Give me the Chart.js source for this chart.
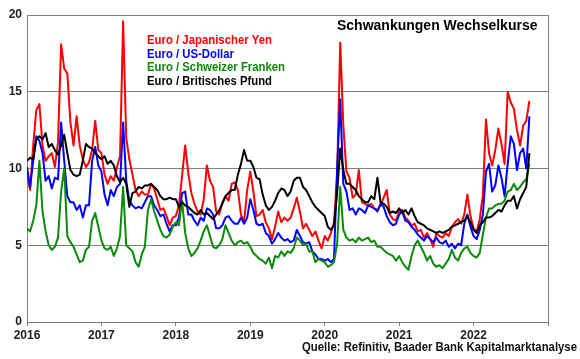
<!DOCTYPE html>
<html><head><meta charset="utf-8">
<script src="https://cdn.jsdelivr.net/npm/chart.js@4/dist/chart.umd.min.js"></script>
<style>html,body{margin:0;padding:0;background:#fff;overflow:hidden}#wrap{width:580px;height:359px}</style>
</head><body><div id="wrap"><canvas id="c" width="580" height="359"></canvas></div>
<script>
const startYear = 2016;
const pointsPerYear = 24; // semi-monthly readings
const yearLabels = ['2016','2017','2018','2019','2020','2021','2022'];
const seriesNames = ['Euro / Japanischer Yen','Euro / US-Dollar','Euro / Schweizer Franken','Euro / Britisches Pfund'];
const chartTitle = 'Schwankungen Wechselkurse';
const sourceNote = 'Quelle: Refinitiv, Baader Bank Kapitalmarktanalyse';

const jpy = [
 9.5,8.6,11.5,13.8,14.2,11.5,10.5,10.8,11.0,10.1,11.7,18.1,16.5,16.2,13.0,11.5,13.4,11.5,10.6,10.1,10.4,11.2,13.1,11.2,
 11.0,9.6,9.0,9.5,9.2,10.1,10.8,19.6,12.0,10.6,9.6,8.6,8.2,8.5,8.3,8.3,9.0,8.7,8.0,7.3,7.4,6.9,6.3,6.8,
 6.9,7.6,9.5,11.5,9.7,8.4,7.7,7.2,7.0,8.0,10.2,9.2,8.8,7.2,7.0,7.8,8.2,7.9,9.0,9.1,8.6,7.0,6.5,8.6,
 9.8,8.5,6.9,7.0,7.3,6.5,6.1,5.4,6.2,7.2,6.5,6.8,6.6,6.8,7.4,8.1,7.2,6.1,6.4,6.0,5.6,5.9,5.3,4.8,
 5.6,5.3,5.8,6.5,9.5,18.2,12.8,9.8,9.4,8.1,8.3,9.9,7.8,7.7,7.6,7.7,7.4,7.3,7.6,8.1,8.6,7.0,6.7,6.6,
 7.2,7.3,6.8,6.6,6.3,6.4,5.9,6.0,5.5,5.8,5.4,4.9,5.8,5.6,5.5,5.8,5.6,6.2,6.5,6.7,6.4,7.0,8.3,6.9,
 6.1,5.9,6.7,8.3,13.2,11.0,10.2,11.2,12.6,11.6,10.3,15.0,14.3,13.9,12.5,11.5,12.8,13.1,14.4
];
const usd = [
 10.1,8.8,10.5,12.1,11.8,11.0,9.2,9.5,8.7,9.4,9.3,13.0,10.5,8.2,7.8,7.8,7.3,7.6,6.8,7.6,7.6,10.5,11.4,10.2,
 9.8,8.3,7.6,8.6,8.2,8.8,9.0,13.0,9.2,7.9,7.6,7.4,7.5,7.4,7.8,8.2,8.2,7.6,7.3,6.9,7.0,6.4,5.9,6.3,
 6.3,6.8,8.4,8.5,7.0,7.0,6.6,6.3,6.8,6.6,7.4,7.3,7.0,6.1,6.1,6.3,6.8,6.9,6.6,6.4,6.4,6.8,6.4,6.8,
 8.0,7.3,6.4,6.3,6.4,5.8,5.6,5.1,5.4,5.8,5.5,5.3,5.4,5.2,5.3,6.0,5.6,5.2,5.1,5.2,4.6,4.4,4.1,4.1,
 4.0,4.1,3.9,4.1,10.0,14.5,9.0,8.5,7.3,7.4,7.0,7.4,7.3,7.1,7.6,7.5,7.4,7.2,7.7,7.5,6.9,6.5,6.3,6.4,
 7.0,7.2,6.6,6.5,6.2,6.0,5.7,5.5,5.3,5.6,5.4,5.2,5.5,5.2,5.1,5.3,4.9,5.1,4.8,5.1,5.0,6.4,7.0,6.2,
 5.6,5.4,6.0,7.0,9.8,10.3,8.5,8.9,10.2,9.4,8.2,10.3,12.1,11.6,9.9,11.0,11.3,10.0,13.4
];
const chf = [
 6.1,5.9,6.6,7.6,10.5,7.2,5.9,5.0,4.7,4.9,5.5,8.5,10.0,5.6,5.2,4.9,4.4,3.9,4.0,4.7,4.9,6.6,7.1,6.2,
 5.3,4.8,4.7,4.9,4.3,4.8,5.6,8.8,5.0,4.8,4.6,3.9,3.6,4.4,4.9,7.3,8.0,7.2,6.6,6.0,5.6,5.5,5.7,6.2,
 6.5,6.3,7.9,5.8,4.8,4.3,4.5,4.8,5.3,5.9,6.3,5.6,4.9,4.8,5.0,5.4,6.3,5.8,5.3,5.0,5.2,5.3,5.1,5.2,
 4.9,4.5,4.3,4.1,4.0,3.8,4.2,3.5,4.3,4.2,4.6,4.3,4.6,4.5,4.8,5.5,5.3,5.0,5.1,4.6,4.6,3.9,4.1,4.0,
 3.9,3.6,3.7,3.9,5.1,8.8,6.0,5.5,5.3,5.4,5.2,5.5,5.3,5.4,5.5,5.2,5.3,4.9,4.9,4.7,4.5,4.4,4.3,4.0,
 4.3,3.9,3.6,3.4,4.3,5.0,5.3,4.9,4.5,4.0,4.3,3.8,3.6,3.7,3.5,3.8,4.1,4.7,4.2,4.0,4.5,4.8,4.9,4.5,
 4.3,4.2,4.5,5.7,6.8,7.4,7.4,7.6,7.7,7.7,7.9,8.5,8.6,9.0,8.6,8.8,9.1,9.3,10.3
];
const gbp = [
 10.5,10.7,10.6,11.9,12.1,11.9,12.3,11.4,11.6,11.2,10.9,11.5,12.2,11.0,9.9,9.6,9.5,9.6,10.5,11.6,11.4,11.3,11.0,10.8,
 10.6,10.8,10.3,10.5,10.2,9.5,9.1,9.4,9.0,7.5,8.4,8.5,8.8,8.7,8.9,8.9,9.0,8.8,8.6,8.2,8.0,8.0,8.1,8.0,
 8.0,7.5,7.8,7.6,7.5,7.3,7.1,7.0,7.3,7.0,7.1,6.9,6.7,7.0,7.3,7.7,8.2,8.4,8.6,8.6,9.6,10.3,11.2,10.5,
 10.5,10.1,9.4,9.3,8.3,7.6,7.3,7.5,7.9,8.4,8.7,8.6,8.2,8.5,9.2,9.4,9.4,8.8,8.6,8.2,7.8,7.5,7.3,7.1,
 6.9,6.2,6.0,6.3,8.4,11.3,9.9,9.0,9.0,8.8,8.6,8.2,8.0,7.8,7.8,8.2,8.0,9.4,7.8,7.7,7.5,7.1,7.2,7.1,
 7.4,7.1,7.3,7.0,7.4,6.9,6.5,6.4,6.3,6.1,6.0,5.9,5.8,5.9,5.8,5.9,6.0,6.2,6.3,6.4,6.5,6.6,6.9,6.5,
 6.0,5.8,6.3,6.5,6.8,6.8,6.9,7.1,7.3,7.2,7.6,7.9,7.9,8.2,7.4,8.0,8.4,8.8,11.0
];

const periods = jpy.map((_, i) => startYear + i / pointsPerYear);
const FONT = "'Liberation Sans', Arial, sans-serif";
const colors = ['#ff0000', '#0000ff', '#0a8a0a', '#000000'];

const overlay = {
  id: 'overlay',
  afterDraw(chart) {
    const ctx = chart.ctx, a = chart.chartArea;
    ctx.save();
    ctx.strokeStyle = '#808080';
    ctx.lineWidth = 1;
    ctx.beginPath();
    ctx.moveTo(Math.round(a.right) + 0.5, a.top);
    ctx.lineTo(Math.round(a.right) + 0.5, a.bottom);
    ctx.stroke();
    ctx.textBaseline = 'middle';
    ctx.textAlign = 'left';
    ctx.fillStyle = '#000';
    ctx.font = 'bold 14px ' + FONT;
    ctx.fillText(chartTitle, 337, 26.5, 207);
    const ys = [41, 54.5, 68, 81.5];
    const widths = [125, 87, 138, 125];
    ctx.font = 'bold 12px ' + FONT;
    seriesNames.forEach((n, i) => {
      ctx.fillStyle = colors[i];
      ctx.fillText(n, 147, ys[i], widths[i]);
    });
    ctx.fillStyle = '#111';
    ctx.font = 'bold 12px ' + FONT;
    ctx.fillText(sourceNote, 302, 347.5, 275);
    ctx.restore();
  }
};

new Chart(document.getElementById('c'), {
  type: 'line',
  data: {
    labels: periods,
    datasets: [
      { label: seriesNames[0], data: jpy, borderColor: colors[0], order: 4 },
      { label: seriesNames[1], data: usd, borderColor: colors[1], order: 3 },
      { label: seriesNames[2], data: chf, borderColor: colors[2], order: 2 },
      { label: seriesNames[3], data: gbp, borderColor: colors[3], order: 1 }
    ]
  },
  options: {
    responsive: false,
    devicePixelRatio: 1,
    animation: false,
    layout: { padding: { top: 15, right: 32, left: 0, bottom: 0 } },
    elements: {
      line: { borderWidth: 2, tension: 0, fill: false, borderJoinStyle: 'round' },
      point: { radius: 0, hoverRadius: 0 }
    },
    plugins: { legend: { display: false }, tooltip: { enabled: false }, title: { display: false } },
    scales: {
      x: {
        type: 'linear', min: 2016, max: 2023,
        afterFit: s => { s.height = 37; },
        grid: { drawOnChartArea: false, drawTicks: true, tickLength: 4, color: '#808080' },
        border: { color: '#808080' },
        ticks: {
          stepSize: 1, autoSkip: false, maxRotation: 0, padding: 2, color: '#222',
          font: { family: FONT, size: 12, weight: 'bold' },
          callback: v => yearLabels[Math.round(v) - startYear] ?? ''
        }
      },
      y: {
        min: 0, max: 20,
        afterFit: s => { s.width = 27; },
        grid: { color: '#808080', drawTicks: false },
        border: { color: '#808080' },
        ticks: { stepSize: 5, padding: 5, color: '#222', font: { family: FONT, size: 12, weight: 'bold' } }
      }
    }
  },
  plugins: [overlay]
});
</script></body></html>
